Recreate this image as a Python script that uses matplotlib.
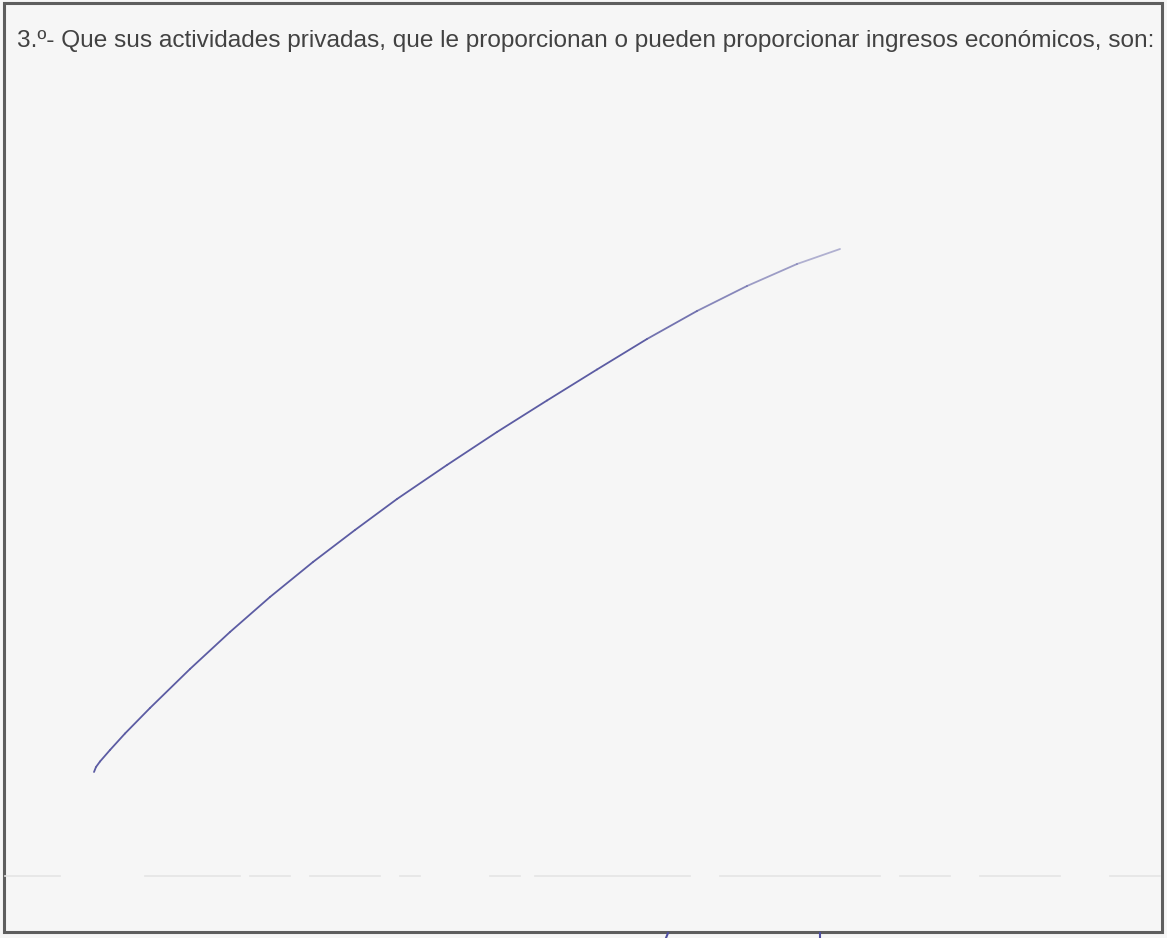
import numpy as np
import matplotlib
matplotlib.use("Agg")
import matplotlib.pyplot as plt
from matplotlib.patches import Rectangle
from matplotlib.collections import LineCollection

# Settings:
W, H = 1167, 938
question = "3.º- Que sus actividades privadas, que le proporcionan o pueden proporcionar ingresos económicos, son:"

# hand drawn stroke (page pixels)
stroke_x = [94, 96, 100, 110, 125, 150, 190, 230, 270, 313, 355, 397, 447, 497,
            547, 597, 647, 697, 747, 797, 840]
stroke_y = [772, 767, 761.5, 750, 733.5, 708, 669, 632, 597, 562, 530, 499, 465, 432,
            400.5, 369.5, 339, 311, 286, 264, 249]

# faint dotted rule near the bottom of the box
rule_segments = [(5, 60), (145, 240), (250, 290), (310, 380), (400, 420), (490, 520),
                 (535, 690), (720, 880), (900, 950), (980, 1060), (1110, 1160)]
rule_y = 876

# set up main frame
fig = plt.figure(figsize=(W / 100, H / 100), dpi=100)
fig.patch.set_facecolor("#f6f6f6")
ax = fig.add_axes([0, 0, 1, 1])
ax.set_xlim(0, W)
ax.set_ylim(H, 0)
ax.axis("off")
ax.set_facecolor("#f6f6f6")

# box around the answer field
ax.add_patch(Rectangle((4, 3), 1158, 929, fill=False, edgecolor="#5e5e5e", linewidth=2.2))

# question text, narrow face stretched to the width of the line
fam = ["Liberation Sans Narrow", "Liberation Sans"]
txt = ax.text(17, 41, question, fontsize=13, family=fam,
              color="#424242", va="center", ha="left")
fig.canvas.draw()
w = txt.get_window_extent(fig.canvas.get_renderer()).width
txt.set_fontsize(13 * 1136 / w)

for a, b in rule_segments:
    ax.plot([a, b], [rule_y, rule_y], color="#e4e4e4", linewidth=1.2)

# pen stroke, fading a little at the far end
pts = np.column_stack([stroke_x, stroke_y])
segs = np.stack([pts[:-1], pts[1:]], axis=1)
alphas = [1.0] * (len(segs) - 4) + [0.85, 0.72, 0.58, 0.45]
cols = [(0.36, 0.36, 0.64, al) for al in alphas]
ax.add_collection(LineCollection(segs, colors=cols, linewidths=1.3, capstyle="round",
                                 joinstyle="round"))

# cut-off pen marks below the box
ax.plot([668, 666], [933, 938], color="#5050a0", linewidth=1.5)
ax.plot([820, 820], [933, 938], color="#5050a0", linewidth=1.5)

plt.savefig("out.png", dpi=100, facecolor=fig.get_facecolor())
